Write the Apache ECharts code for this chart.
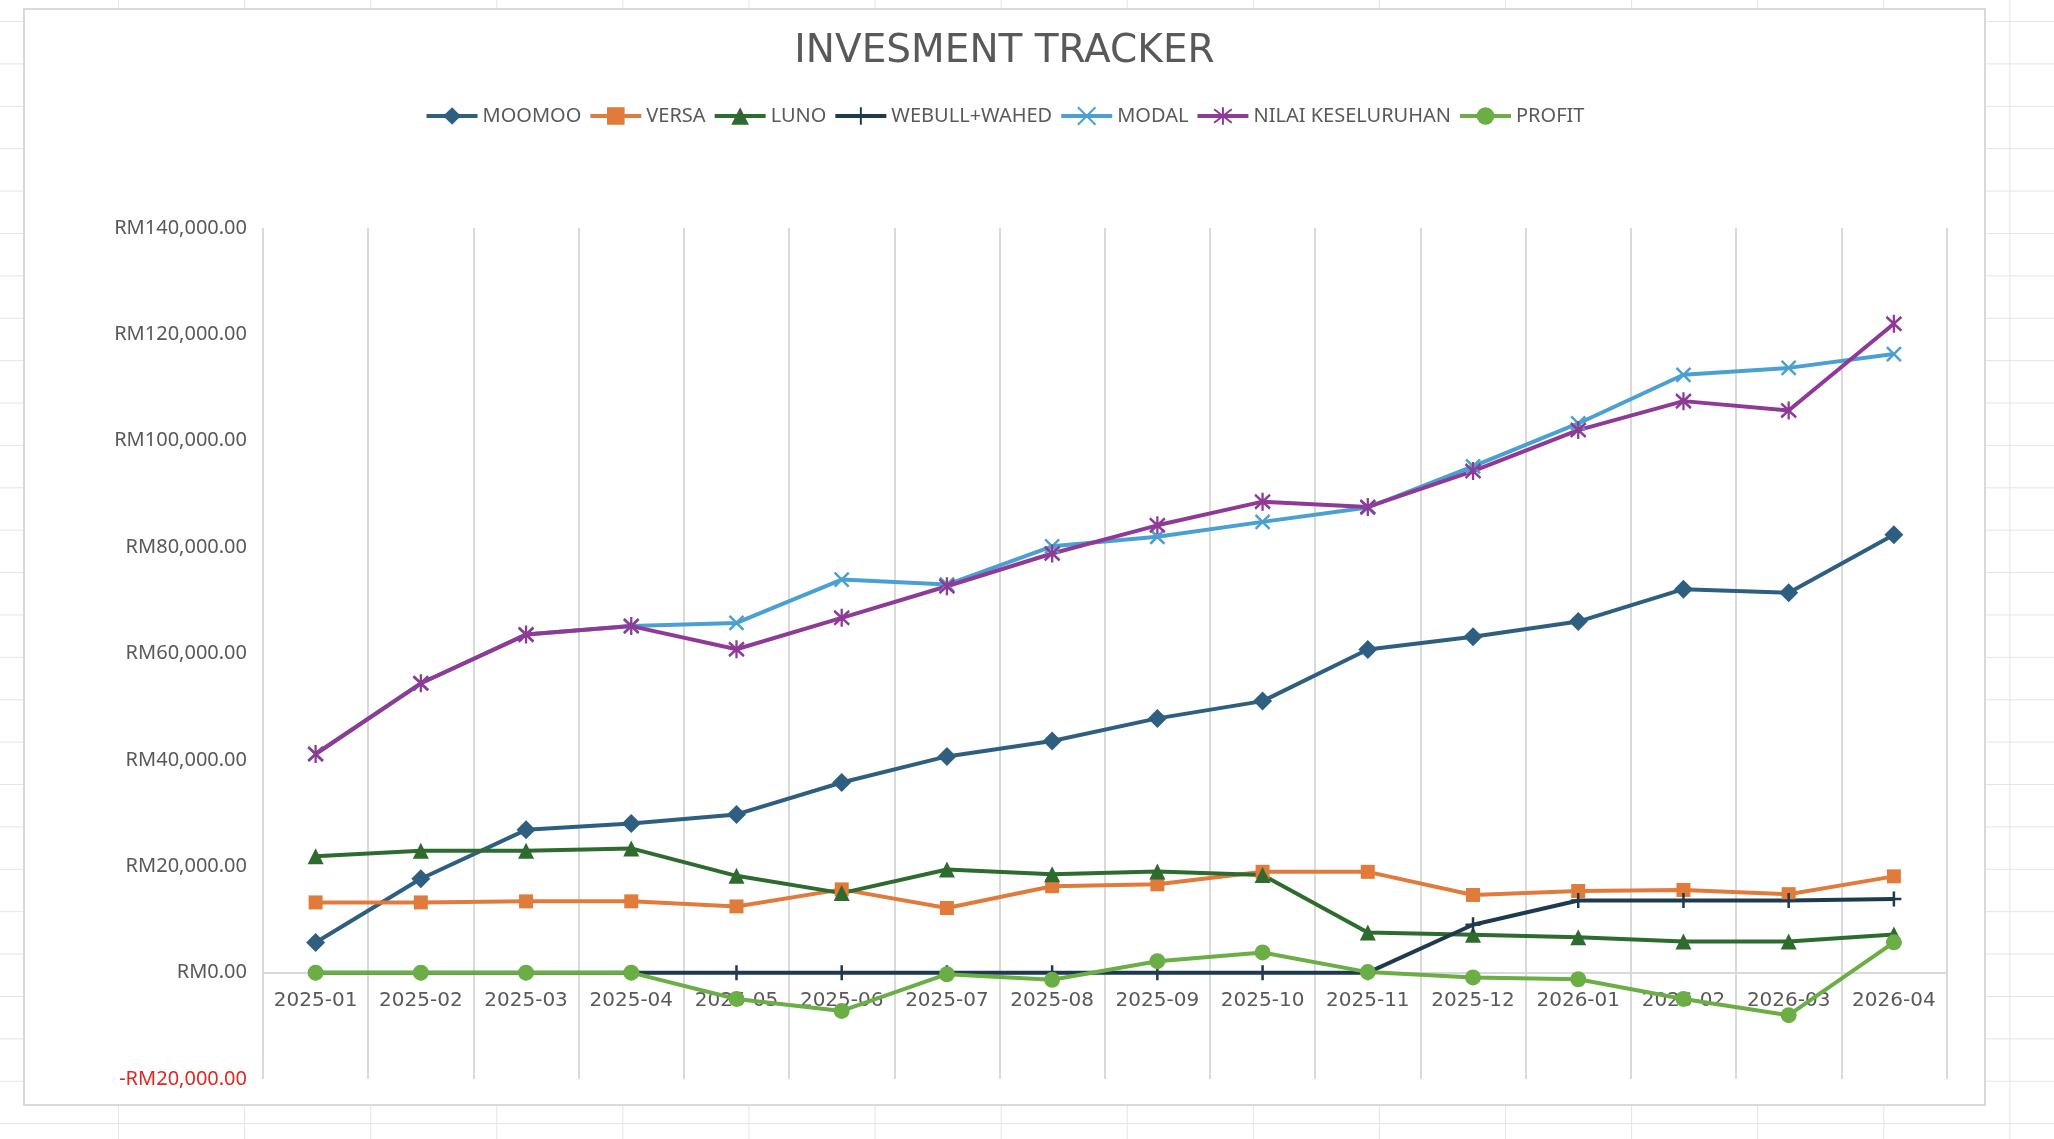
<!DOCTYPE html>
<html>
<head>
<meta charset="utf-8">
<script src="https://cdn.jsdelivr.net/npm/echarts@6.0.0/dist/echarts.min.js"></script>
<style>
html, body { margin: 0; padding: 0; width: 2054px; height: 1139px; overflow: hidden; background-color: #fff;
  background-image: linear-gradient(to right, #e4e4e4 1px, transparent 1px), linear-gradient(to bottom, #e4e4e4 1px, transparent 1px);
  background-size: 126.1px 42.4px; background-position: 118px 21px; }
#box { position: absolute; left: 23px; top: 8px; width: 1959px; height: 1094px; border: 2px solid #d9d9d9; background: #fff; }
#chart { width: 1959px; height: 1094px; }
</style>
</head>
<body>
<div id="box"><div id="chart"></div></div>
<script>
const titleText = 'INVESMENT TRACKER';
const categories = ['2025-01','2025-02','2025-03','2025-04','2025-05','2025-06','2025-07','2025-08','2025-09','2025-10','2025-11','2025-12','2026-01','2026-02','2026-03','2026-04'];
const moomoo = [5650, 17650, 26850, 28050, 29750, 35750, 40650, 43550, 47800, 51050, 60750, 63150, 66000, 72100, 71400, 82350];
const versa = [13200, 13200, 13400, 13400, 12450, 15650, 12150, 16250, 16600, 18950, 18950, 14600, 15350, 15550, 14750, 18100];
const luno = [21900, 22900, 22900, 23350, 18200, 14950, 19400, 18500, 19000, 18350, 7550, 7100, 6650, 5850, 5850, 7150];
const webullWahed = [0, 0, 0, 0, 0, 0, 0, 0, 0, 0, 0, 9000, 13550, 13550, 13550, 13850];
const modal = [41100, 54400, 63550, 65150, 65750, 73900, 72950, 80150, 81950, 84750, 87450, 95200, 103250, 112400, 113700, 116300];
const nilaiKeseluruhan = [41100, 54400, 63550, 65150, 60800, 66700, 72650, 78800, 84100, 88550, 87550, 94300, 102000, 107450, 105700, 122000];
const profit = [0, 0, 0, 0, -4950, -7200, -300, -1350, 2150, 3800, 100, -900, -1250, -4950, -8000, 5700];
const yMin = -20000, yMax = 140000, yStep = 20000;

const FONT = '"Noto Sans", "Open Sans", sans-serif';
const WIDE = '"DejaVu Sans", "Noto Sans", sans-serif';
const TXT = '#595959';
const GRID = '#d9d9d9';

function fmtRM(v) {
  const abs = Math.abs(v);
  const s = abs.toFixed(2).replace(/\B(?=(\d{3})+(?!\d))/g, ',');
  return v < 0 ? '{neg|-RM' + s + '}' : 'RM' + s;
}

function mk(name, data, color, symbol, size, bw) {
  return {
    name: name, type: 'line', data: data,
    symbol: symbol, symbolSize: size,
    lineStyle: { color: color, width: 4 },
    itemStyle: { color: color, borderColor: color, borderWidth: bw },
    emphasis: { disabled: true }
  };
}

const plusPath = 'path://M0,-10L0,10M-10,0L10,0';
const xPath = 'path://M-10,-10L10,10M10,-10L-10,10';
const starPath = 'path://M-10,-10L10,10M10,-10L-10,10M0,-13L0,13';

const chart = echarts.init(document.getElementById('chart'), null, { renderer: 'canvas' });
chart.setOption({
  animation: false,
  backgroundColor: '#fff',
  textStyle: { fontFamily: FONT },
  title: {
    text: titleText, left: 'center', top: 22, padding: 0,
    textStyle: { fontFamily: WIDE, fontSize: 39, fontWeight: 'normal', color: TXT }
  },
  legend: {
    top: 96, left: 'center', padding: 0,
    itemWidth: 51, itemHeight: 22, itemGap: 7,
    lineStyle: { width: 4 },
    textStyle: { fontFamily: FONT, fontSize: 20, color: TXT },
    data: ['MOOMOO', 'VERSA', 'LUNO', 'WEBULL+WAHED', 'MODAL', 'NILAI KESELURUHAN', 'PROFIT']
  },
  grid: { left: 238, right: 37.5, top: 218, bottom: 25, containLabel: false, outerBoundsMode: 'none' },
  xAxis: {
    type: 'category', data: categories, boundaryGap: true,
    axisLine: { show: true, onZero: false, lineStyle: { color: GRID, width: 2 } },
    axisTick: { show: false, interval: 0 },
    axisLabel: { fontFamily: WIDE, fontSize: 20, color: TXT, margin: 18, interval: 0, hideOverlap: false },
    splitLine: { show: true, interval: 0, lineStyle: { color: GRID, width: 2 } }
  },
  yAxis: {
    type: 'value', min: yMin, max: yMax, interval: yStep,
    axisLine: { show: false }, axisTick: { show: false },
    splitLine: { show: false },
    axisLabel: {
      fontFamily: FONT, fontSize: 20, color: TXT, margin: 16,
      formatter: fmtRM,
      rich: { neg: { fontFamily: FONT, fontSize: 20, color: '#e0281f' } }
    }
  },
  series: [
    mk('MOOMOO', moomoo, '#2E5F80', 'diamond', 19, 0),
    mk('VERSA', versa, '#E07B3C', 'rect', 14, 0),
    mk('LUNO', luno, '#2E6B2E', 'triangle', 16, 0),
    mk('WEBULL+WAHED', webullWahed, '#1E3A4F', plusPath, 15, 2.5),
    mk('MODAL', modal, '#4BA0D2', xPath, 14, 2.5),
    mk('NILAI KESELURUHAN', nilaiKeseluruhan, '#8E3A96', starPath, [15, 18], 2.5),
    mk('PROFIT', profit, '#6AAE45', 'circle', 16, 0)
  ]
});
// place the category axis (line + labels) on the zero value of the value axis
const zeroPx = chart.convertToPixel({ yAxisIndex: 0 }, 0);
const minPx = chart.convertToPixel({ yAxisIndex: 0 }, yMin);
chart.setOption({ xAxis: { offset: -(minPx - zeroPx) } });
</script>
</body>
</html>
